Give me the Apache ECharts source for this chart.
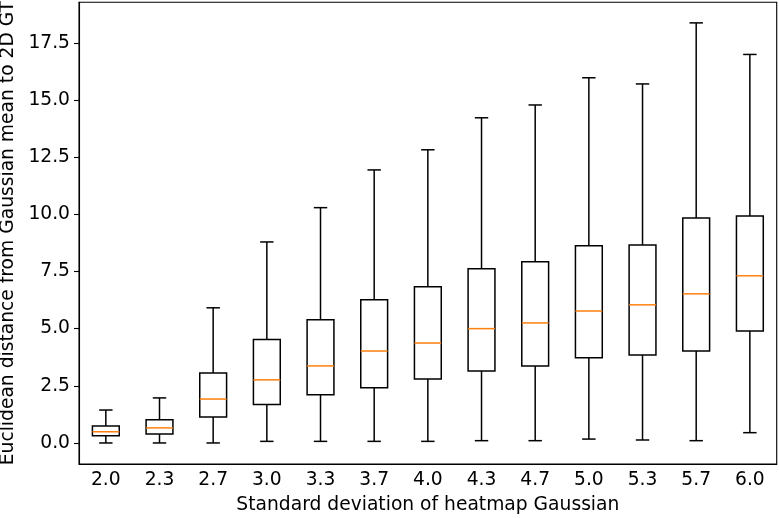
<!DOCTYPE html>
<html>
<head>
<meta charset="utf-8">
<script src="https://cdn.jsdelivr.net/npm/echarts@6/dist/echarts.min.js"></script>
<style>
  html, body { margin: 0; padding: 0; background: #fff; }
  #box { width: 779px; height: 518px; }
</style>
</head>
<body>
<div id="box"></div>
<script>
// categories (std dev of the heatmap gaussian)
var sigmas = ['2.0', '2.3', '2.7', '3.0', '3.3', '3.7', '4.0', '4.3', '4.7', '5.0', '5.3', '5.7', '6.0'];
// box stats
var whiskerLow  = [0.0, 0.0, 0.0, 0.07, 0.07, 0.07, 0.07, 0.10, 0.10, 0.17, 0.13, 0.10, 0.45];
var q1          = [0.31, 0.39, 1.14, 1.68, 2.11, 2.41, 2.80, 3.15, 3.37, 3.73, 3.85, 4.02, 4.90];
var median      = [0.49, 0.66, 1.92, 2.76, 3.37, 4.02, 4.37, 5.00, 5.25, 5.77, 6.04, 6.52, 7.31];
var q3          = [0.74, 1.01, 3.06, 4.52, 5.39, 6.26, 6.83, 7.62, 7.92, 8.62, 8.66, 9.84, 9.93];
var whiskerHigh = [1.44, 1.97, 5.91, 8.79, 10.29, 11.94, 12.82, 14.22, 14.78, 15.97, 15.70, 18.37, 16.99];
var yTicks = [0, 2.5, 5, 7.5, 10, 12.5, 15, 17.5];

var font = 'DejaVu Sans';
var fs = 18.7;

var rows = [];
for (var i = 0; i < sigmas.length; i++) {
    rows.push([i, whiskerLow[i], q1[i], median[i], q3[i], whiskerHigh[i]]);
}

function renderBox(params, api) {
    var idx = api.value(0);
    var band = api.size([1, 0])[0];
    var bw = band * 0.5, cw = band * 0.25;
    var pLow = api.coord([idx, api.value(1)]);
    var pQ1 = api.coord([idx, api.value(2)]);
    var pMed = api.coord([idx, api.value(3)]);
    var pQ3 = api.coord([idx, api.value(4)]);
    var pHigh = api.coord([idx, api.value(5)]);
    var x = pMed[0];
    var blk = { stroke: '#000', lineWidth: 1.5, fill: null };
    function seg(x1, y1, x2, y2, st) {
        return { type: 'line', shape: { x1: x1, y1: y1, x2: x2, y2: y2 }, style: st };
    }
    return {
        type: 'group',
        children: [
            seg(x, pHigh[1], x, pQ3[1], blk),
            seg(x, pLow[1], x, pQ1[1], blk),
            seg(x - cw / 2, pHigh[1], x + cw / 2, pHigh[1], blk),
            seg(x - cw / 2, pLow[1], x + cw / 2, pLow[1], blk),
            { type: 'rect', shape: { x: x - bw / 2, y: pQ3[1], width: bw, height: pQ1[1] - pQ3[1] }, style: blk },
            seg(x - bw / 2, pMed[1], x + bw / 2, pMed[1], { stroke: '#ff7f0e', lineWidth: 1.5 })
        ]
    };
}

var myChart = echarts.init(document.getElementById('box'));
myChart.setOption({
    animation: false,
    textStyle: { fontFamily: font },
    grid: {
        left: 79, right: 2.3, top: 2.3, bottom: 54,
        outerBoundsMode: 'none',
        containLabel: false,
        show: true, borderColor: '#000', borderWidth: 1.1, backgroundColor: 'transparent'
    },
    xAxis: {
        type: 'category',
        data: sigmas,
        name: 'Standard deviation of heatmap Gaussian',
        nameLocation: 'middle',
        nameGap: 32,
        nameTextStyle: { fontSize: fs, color: '#000', fontFamily: font },
        axisLine: { onZero: false, lineStyle: { color: '#000', width: 1.1 } },
        axisTick: { alignWithLabel: true, length: 5, lineStyle: { color: '#000', width: 1.1 } },
        axisLabel: { fontSize: fs, color: '#000', margin: 7, fontFamily: font },
        splitLine: { show: false }
    },
    yAxis: {
        type: 'value',
        min: -0.92,
        max: 19.27,
        name: 'Euclidean distance from Gaussian mean to 2D GT',
        nameLocation: 'middle',
        nameGap: 56,
        nameTextStyle: { fontSize: fs, color: '#000', fontFamily: font },
        axisLine: { show: true, lineStyle: { color: '#000', width: 1.1 } },
        axisTick: { show: true, length: 5, customValues: yTicks, lineStyle: { color: '#000', width: 1.1 } },
        axisLabel: {
            fontSize: fs, color: '#000', margin: 9, fontFamily: font,
            customValues: yTicks,
            formatter: function (v) { return v.toFixed(1); }
        },
        splitLine: { show: false }
    },
    series: [{
        type: 'custom',
        renderItem: renderBox,
        encode: { x: 0, y: [1, 2, 3, 4, 5] },
        data: rows
    }]
});
</script>
</body>
</html>
